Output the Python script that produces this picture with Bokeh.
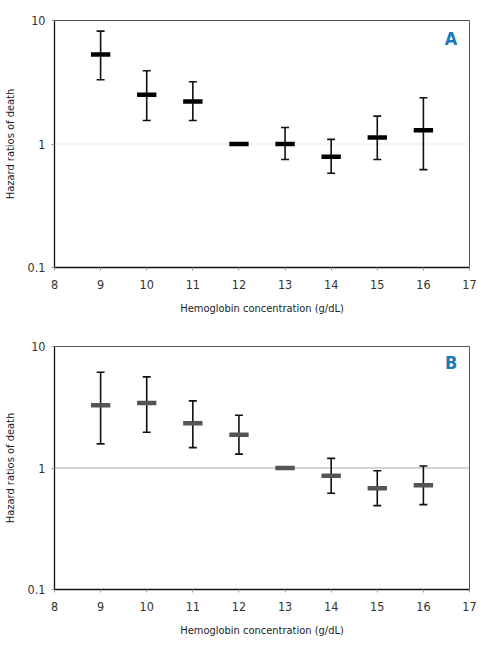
from bokeh.plotting import figure
from bokeh.layouts import column
from bokeh.models import FixedTicker, CustomJSTickFormatter, Span, Label, ColumnDataSource
from bokeh.embed import file_html
from bokeh.resources import INLINE

# Panel A
hb_a = [9, 10, 11, 12, 13, 14, 15, 16]
hr_a = [5.3, 2.5, 2.21, 1.0, 1.0, 0.79, 1.13, 1.29]
lo_a = [3.31, 1.55, 1.55, None, 0.75, 0.58, 0.75, 0.62]
hi_a = [8.2, 3.92, 3.19, None, 1.36, 1.09, 1.68, 2.37]

# Panel B
hb_b = [9, 10, 11, 12, 13, 14, 15, 16]
hr_b = [3.28, 3.43, 2.33, 1.88, 1.0, 0.865, 0.68, 0.72]
lo_b = [1.58, 1.97, 1.47, 1.30, None, 0.62, 0.49, 0.50]
hi_b = [6.14, 5.62, 3.57, 2.72, None, 1.20, 0.95, 1.04]

x_ticks = [8, 9, 10, 11, 12, 13, 14, 15, 16, 17]
y_ticks = [0.1, 1, 10]

FONT = "DejaVu Sans Condensed"


def make_panel(xs, hr, lo, hi, letter, letter_y, mean_color, ref_color, h, top, bottom):
    p = figure(width=480, height=h, y_axis_type="log", x_range=(8, 17), y_range=(0.1, 10),
               output_backend="svg", toolbar_location=None,
               min_border_left=54, min_border_right=11, min_border_top=top,
               min_border_bottom=bottom)
    p.grid.visible = False
    p.outline_line_color = "#555555"
    p.outline_line_width = 1
    p.background_fill_color = "white"

    p.add_layout(Span(location=1, dimension="width", line_color=ref_color, line_width=1.2,
                      level="underlay"))

    ex = [x for x, l in zip(xs, lo) if l is not None]
    el = [l for l in lo if l is not None]
    eh = [v for v in hi if v is not None]
    src = ColumnDataSource(dict(x=ex, lo=el, hi=eh))
    p.segment(x0="x", y0="lo", x1="x", y1="hi", source=src, line_color="#111111", line_width=1.6)
    p.scatter(x="x", y="lo", source=src, marker="dash", size=8, line_color="#111111", line_width=1.6)
    p.scatter(x="x", y="hi", source=src, marker="dash", size=8, line_color="#111111", line_width=1.6)

    p.rect(x=xs, y=hr, width=0.42, height=4.5, height_units="screen",
           fill_color=mean_color, line_color=None)

    p.xaxis.ticker = FixedTicker(ticks=x_ticks)
    p.yaxis.ticker = FixedTicker(ticks=y_ticks, minor_ticks=[])
    p.yaxis.formatter = CustomJSTickFormatter(code="return tick < 1 ? tick.toFixed(1) : tick.toFixed(0);")
    for ax in (p.xaxis, p.yaxis):
        ax.axis_line_color = "#111111"
        ax.axis_line_width = 1.3
        ax.major_tick_in = 0
        ax.major_tick_out = 3
        ax.major_tick_line_color = "#999999"
        ax.minor_tick_line_color = None
        ax.major_label_text_font = FONT
        ax.major_label_text_font_size = "12.5px"
        ax.major_label_text_color = "#333333"
        ax.axis_label_text_font = FONT
        ax.axis_label_text_font_size = "11px"
        ax.axis_label_text_font_style = "normal"
        ax.axis_label_text_color = "#222222"
    p.xaxis.major_label_standoff = 9
    p.yaxis.major_label_standoff = 6
    p.xaxis.axis_label = "Hemoglobin concentration (g/dL)"
    p.yaxis.axis_label = "Hazard ratios of death"
    p.xaxis.axis_label_standoff = 10
    p.yaxis.axis_label_standoff = 8

    p.add_layout(Label(x=16.6, y=letter_y, text=letter, text_color="#1a7ab8", text_font=FONT,
                       text_font_size="18px", text_font_style="bold",
                       text_align="center", text_baseline="middle"))
    return p


p1 = make_panel(hb_a, hr_a, lo_a, hi_a, "A", 7.15, "#000000", "#eeeeee", 320, 20, 53)
p2 = make_panel(hb_b, hr_b, lo_b, hi_b, "B", 7.4, "#555555", "#aaaaaa", 329, 26, 60)

layout = column(p1, p2)
open("out.html", "w").write(file_html(layout, INLINE))
